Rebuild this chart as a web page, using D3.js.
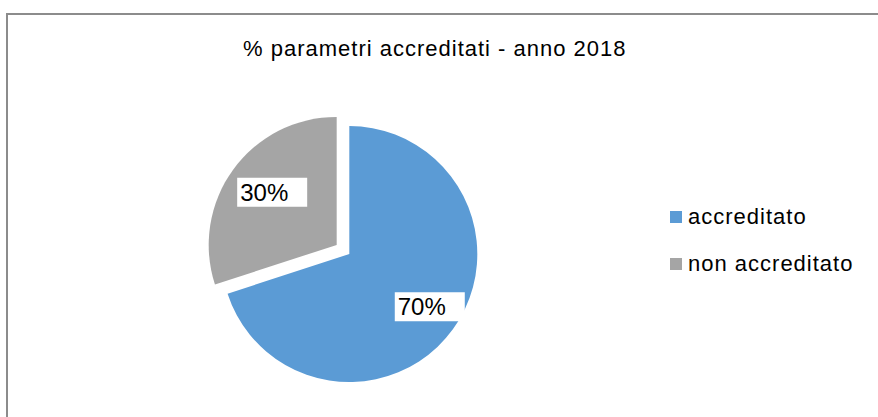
<!DOCTYPE html>
<html>
<head>
<meta charset="utf-8">
<script src="https://d3js.org/d3.v7.min.js"></script>
<style>
    body { margin: 0; background: #fff; }
    text { font-family: "Liberation Sans", Arial, Helvetica, sans-serif; fill: #000; }
</style>
</head>
<body>
<div id="chart"></div>
<script>
// data
var categories = ["accreditato", "non accreditato"];
var values = [70, 30];
var labels = ["70%", "30%"];
var colors = ["#5B9BD5", "#A5A5A5"];
var title = "% parametri accreditati - anno 2018";

var width = 878,
    height = 417;

var svg = d3.select("#chart").append("svg")
    .attr("width", width)
    .attr("height", height);

// frame of the chart area (runs off right and bottom)
svg.append("rect")
    .attr("x", 7)
    .attr("y", 14)
    .attr("width", width)
    .attr("height", height)
    .attr("fill", "none")
    .attr("stroke", "#8c8c8c")
    .attr("stroke-width", 2);

svg.append("text")
    .attr("x", 243)
    .attr("y", 56)
    .style("font-size", "22px")
    .style("letter-spacing", "1px")
    .text(title);

// pie
var radius = 128,
    cx = 343,
    cy = 249.5,
    explode = 7.8;

var colorScale = d3.scaleOrdinal()
    .domain(categories)
    .range(colors);

var pie = d3.pie()
    .sort(null)
    .value(function(d) { return d; });

var arc = d3.arc()
    .innerRadius(0)
    .outerRadius(radius);

var arcs = pie(values);

var slices = svg.append("g")
    .attr("transform", "translate(" + cx + "," + cy + ")")
    .selectAll(".slice")
    .data(arcs)
    .enter().append("g")
    .attr("class", "slice")
    .attr("transform", function(d) {
        var a = (d.startAngle + d.endAngle) / 2;
        return "translate(" + (Math.sin(a) * explode) + "," + (-Math.cos(a) * explode) + ")";
    });

slices.append("path")
    .attr("d", arc)
    .style("fill", function(d, i) { return colorScale(categories[i]); });

// data labels with white box
slices.each(function(d, i) {
    var g = d3.select(this);
    var a = (d.startAngle + d.endAngle) / 2;
    var r = radius * 0.7;
    var lx = Math.sin(a) * r,
        ly = -Math.cos(a) * r;

    var box = g.append("rect").attr("fill", "#fff");
    var t = g.append("text")
        .attr("x", lx)
        .attr("y", ly)
        .attr("text-anchor", "middle")
        .attr("dy", "0.35em")
        .style("font-size", "24px")
        .text(labels[i]);

    var bb = t.node().getBBox();
    box.attr("x", bb.x - 3)
        .attr("y", ly - 14.5)
        .attr("width", 70)
        .attr("height", 29);
});

// legend
var legend = svg.append("g")
    .attr("transform", "translate(670,211)")
    .selectAll(".legend")
    .data(categories)
    .enter().append("g")
    .attr("class", "legend")
    .attr("transform", function(d, i) { return "translate(0," + (i * 47) + ")"; });

legend.append("rect")
    .attr("width", 12)
    .attr("height", 12)
    .style("fill", function(d) { return colorScale(d); });

legend.append("text")
    .attr("x", 18)
    .attr("y", 13)
    .style("font-size", "22px")
    .style("letter-spacing", "1px")
    .text(function(d) { return d; });
</script>
</body>
</html>
